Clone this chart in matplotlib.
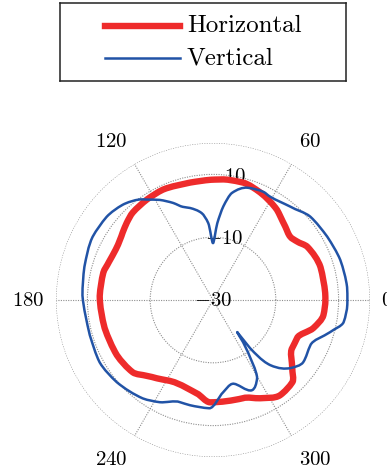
import numpy as np
import matplotlib.pyplot as plt
from matplotlib.path import Path
from matplotlib.patches import PathPatch

plt.rcParams['mathtext.fontset'] = 'cm'

# radiation pattern, angle in degrees, gain in dB
h_deg = [0, 3.6, 17, 29.4, 34.9, 39.3, 45.4, 51.2, 54.6, 66.3, 75.6, 83, 91, 101,
         114.4, 123.4, 132.6, 138, 143.3, 147, 152.5, 160, 166, 178, 194.5, 209.8,
         222, 228.8, 234.3, 246.5, 260.2, 268.3, 287, 295.6, 305.2, 314, 319.3,
         328.7, 335.7, 344.4, 352.2, 360]
h_db = [5.8, 5.8, 5.8, 4.5, 2.6, 1.8, 2.8, 4.2, 5.2, 7.4, 8.6, 8.6, 8.3, 8.1,
        8.6, 8.3, 7.8, 6.9, 5.9, 5.3, 4.9, 5.3, 6.0, 6.1, 5.65, 5.3,
        4.4, 2.1, 0.7, -1.1, 0.2, 2.6, 2.7, 4.7, 7.1, 6.4, 3.3,
        -0.5, -0.6, 3.2, 5.5, 5.8]

v_deg = [0, 5.5, 17.5, 29, 40.6, 50.4, 61, 65, 73, 80, 83.7, 86.8, 90, 93.5, 97.4,
         104, 108, 112.3, 118, 123.4, 126, 133.5, 142, 152.3, 165.5, 178, 195.9,
         208.8, 220.5, 234.5, 242.5, 252, 257.6, 268, 276.2, 283, 293.4, 299.4,
         305.5, 307, 307.6, 311.3, 318.6, 325.4, 335.1, 344.7, 350.4, 358, 360]
v_db = [12.8, 12.9, 12.5, 11.6, 10.8, 8.6, 7.6, 8.0, 7.4, 4.6, 0.0, -5.5, -11.9, -5.5, -2.1,
        0.2, 1.2, 3.4, 6.1, 8.3, 9.6, 11.8, 13.0, 13.3, 12.3, 11.6, 10.8,
        11.2, 10.3, 8.5, 6.7, 4.2, 4.3, 4.5, -0.4, -2.6, 1.3, -1.4,
        -13.5, -17.2, -10.6, -2.4, 2.8, 4.9, 4.2, 8.7, 12.2, 12.8, 12.8]

r_min, r_max = -30, 20
r_ticks = [-30, -10, 10]
theta_ticks = [0, 60, 120, 180, 240, 300]

red = '#ee2b2b'
blue = '#2153a6'
grid_col = '#8e8e8e'


def smooth_path(deg, db):
    # closed curve through the points as cubic bezier segments (pchip slopes, periodic)
    th = np.deg2rad(deg)
    r = np.asarray(db, float)
    h = np.diff(th)
    d = np.diff(r) / h
    n = len(th)
    m = np.zeros(n)
    for i in range(n):
        k_prev = i - 1 if i > 0 else len(d) - 1
        k_next = i if i < n - 1 else 0
        d0, d1 = d[k_prev], d[k_next]
        h0, h1 = h[k_prev], h[k_next]
        if d0 * d1 <= 0:
            m[i] = 0.0
        else:
            w1 = 2 * h1 + h0
            w2 = h1 + 2 * h0
            m[i] = (w1 + w2) / (w1 / d0 + w2 / d1)
    verts = [(th[0], r[0])]
    codes = [Path.MOVETO]
    for k in range(n - 1):
        verts += [(th[k] + h[k] / 3, r[k] + m[k] * h[k] / 3),
                  (th[k + 1] - h[k] / 3, r[k + 1] - m[k + 1] * h[k] / 3),
                  (th[k + 1], r[k + 1])]
        codes += [Path.CURVE4] * 3
    return Path(verts, codes)


fig = plt.figure(figsize=(3.87, 4.76), dpi=100)
ax = fig.add_axes([56/387, 19/476, 314/387, 314/476], projection='polar')
ax.set_ylim(r_min, r_max)
ax.set_yticks(r_ticks + [r_max])
ax.set_yticklabels([])
ax.set_xticks(np.deg2rad(theta_ticks))
ax.set_xticklabels([])
ax.tick_params(length=0)
ax.grid(color=grid_col, linestyle=(0, (1, 1.2)), linewidth=0.8)
ax.spines['polar'].set_visible(False)

ax.add_patch(PathPatch(smooth_path(h_deg, h_db), fill=False, edgecolor=red,
                       lw=4.6, joinstyle='round', zorder=3))
ax.add_patch(PathPatch(smooth_path(v_deg, v_db), fill=False, edgecolor=blue,
                       lw=1.8, joinstyle='round', zorder=4))

# radial labels sit along a line a little off vertical
for r in r_ticks:
    ax.text(np.deg2rad(80), r, '$%d$' % r, ha='center', va='center',
            fontsize=15, zorder=2.5)

# angle labels anchored on their corner nearest the circle
anchors = {0: ('left', 'center'), 60: ('left', 'bottom'), 120: ('right', 'bottom'),
           180: ('right', 'center'), 240: ('right', 'top'), 300: ('left', 'top')}
for t in theta_ticks:
    ha, va = anchors[t]
    pad = 3.6 if t in (0, 180) else 4.8
    ax.text(np.deg2rad(t), r_max + pad, '$%d$' % t, ha=ha, va=va, fontsize=15,
            clip_on=False)

# legend box
lax = fig.add_axes([60/387, 1 - 81/476, 286/387, 78/476])
lax.set_xlim(0, 286)
lax.set_ylim(78, 0)
lax.set_xticks([])
lax.set_yticks([])
for s in lax.spines.values():
    s.set_linewidth(1.1)
    s.set_color('#222222')
lax.plot([45, 120], [22.5, 22.5], color=red, lw=4.6)
lax.plot([45, 120], [54.5, 54.5], color=blue, lw=1.8)
lax.text(127, 29.3, 'Horizontal', family='cmr10', fontsize=18, va='baseline')
lax.text(127, 61, 'Vertical', family='cmr10', fontsize=18, va='baseline')

fig.savefig('out.png', dpi=100)
